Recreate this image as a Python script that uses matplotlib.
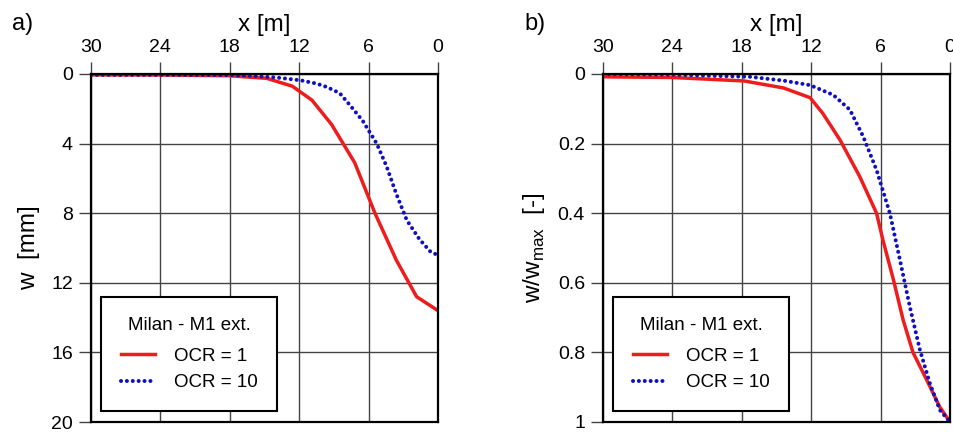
import matplotlib.pyplot as plt

plt.rcParams["font.family"] = ["Liberation Sans", "DejaVu Sans"]
plt.rcParams["font.size"] = 13.5

# panel a) settlement w [mm] vs distance x [m]
X_A_OCR1 = [30, 24, 18, 14.8, 12.6, 10.9, 9.2, 7.2, 5.45, 3.6, 1.85, 0]
W_A_OCR1 = [0.05, 0.06, 0.1, 0.25, 0.7, 1.5, 2.9, 5.1, 8.0, 10.7, 12.8, 13.6]
X_A_OCR10 = [30, 24, 18, 16.2, 14, 11.9, 10.5, 9.6, 8.5, 7.6, 6.5, 5.3, 4.45, 3.6, 2.7, 1.6, 0.6, 0]
W_A_OCR10 = [0.05, 0.05, 0.06, 0.1, 0.2, 0.36, 0.55, 0.75, 1.1, 1.8, 2.7, 4.0, 5.3, 6.9, 8.4, 9.5, 10.25, 10.4]

# panel b) normalised settlement w/wmax vs x [m]
X_B_OCR1 = [30, 24, 17.8, 14.4, 12.1, 11.0, 9.5, 7.8, 6.35, 5.8, 4.9, 4.05, 3.2, 2.0, 0.9, 0]
W_B_OCR1 = [0.008, 0.01, 0.02, 0.04, 0.068, 0.113, 0.19, 0.295, 0.40, 0.477, 0.59, 0.707, 0.80, 0.88, 0.956, 1.0]
X_B_OCR10 = [30, 24, 17.3, 14.4, 12.1, 10.1, 8.65, 7.5, 6.35, 5.2, 4.33, 3.47, 2.6, 1.74, 0.87, 0]
W_B_OCR10 = [0.0, 0.002, 0.008, 0.019, 0.032, 0.06, 0.103, 0.18, 0.276, 0.40, 0.534, 0.669, 0.793, 0.889, 0.966, 1.0]

X_TICKS = [30, 24, 18, 12, 6, 0]
YA_TICKS = [0, 4, 8, 12, 16, 20]
YB_TICKS = [0, 0.2, 0.4, 0.6, 0.8, 1]
YB_LABELS = ["0", "0.2", "0.4", "0.6", "0.8", "1"]

RED = "#ee1c1c"
BLUE = "#1010c0"
DOTS = dict(color=BLUE, lw=2.9, ls=(0, (0.01, 1.45)), dash_capstyle="round")

fig = plt.figure(figsize=(9.54, 4.33), dpi=100)
W, H = 954, 433
axA = fig.add_axes([91 / W, 1 - 422 / H, 347 / W, 348 / H])
axB = fig.add_axes([603 / W, 1 - 422 / H, 347 / W, 348 / H])


def style_axes(ax, yticks, ylabels, ylim):
    ax.set_xlim(30, 0)
    ax.set_ylim(ylim, 0)
    ax.xaxis.tick_top()
    ax.xaxis.set_label_position("top")
    ax.set_xticks(X_TICKS)
    ax.set_yticks(yticks)
    ax.set_yticklabels(ylabels)
    ax.grid(True, color="#444444", linewidth=1.0)
    ax.set_axisbelow(True)
    ax.tick_params(direction="out", length=9, width=1, color="#444444",
                   pad=4, labelsize=14)
    for sp in ax.spines.values():
        sp.set_linewidth(1.6)
        sp.set_color("black")
    ax.set_xlabel("x [m]", labelpad=6, fontsize=17.5)


axA.plot(X_A_OCR1, W_A_OCR1, color=RED, lw=2.5, label="OCR = 1")
axA.plot(X_A_OCR10, W_A_OCR10, label="OCR = 10", **DOTS)
style_axes(axA, YA_TICKS, [str(t) for t in YA_TICKS], 20)
axA.set_ylabel("w  [mm]", fontsize=17.5, labelpad=8)

axB.plot(X_B_OCR1, W_B_OCR1, color=RED, lw=2.5, label="OCR = 1")
axB.plot(X_B_OCR10, W_B_OCR10, label="OCR = 10", **DOTS)
style_axes(axB, YB_TICKS, YB_LABELS, 1)
axB.set_ylabel("w/w$_{\\mathregular{max}}$  [-]", fontsize=17.5, labelpad=8)

for ax in (axA, axB):
    leg = ax.legend(title="Milan - M1 ext.", loc="lower left",
                    bbox_to_anchor=(0.03, 0.032), borderaxespad=0,
                    fancybox=False, framealpha=1, edgecolor="black",
                    handlelength=1.8, handletextpad=1.0, borderpad=1.05,
                    labelspacing=0.5, fontsize=13.5, title_fontsize=13.5)
    leg.get_frame().set_linewidth(1.5)
    leg._legend_box.sep = 10

fig.text(12 / W, 1 - 24 / H, "a)", fontsize=17, va="center")
fig.text(524 / W, 1 - 24 / H, "b)", fontsize=17, va="center")

fig.savefig("out.png", dpi=100)
